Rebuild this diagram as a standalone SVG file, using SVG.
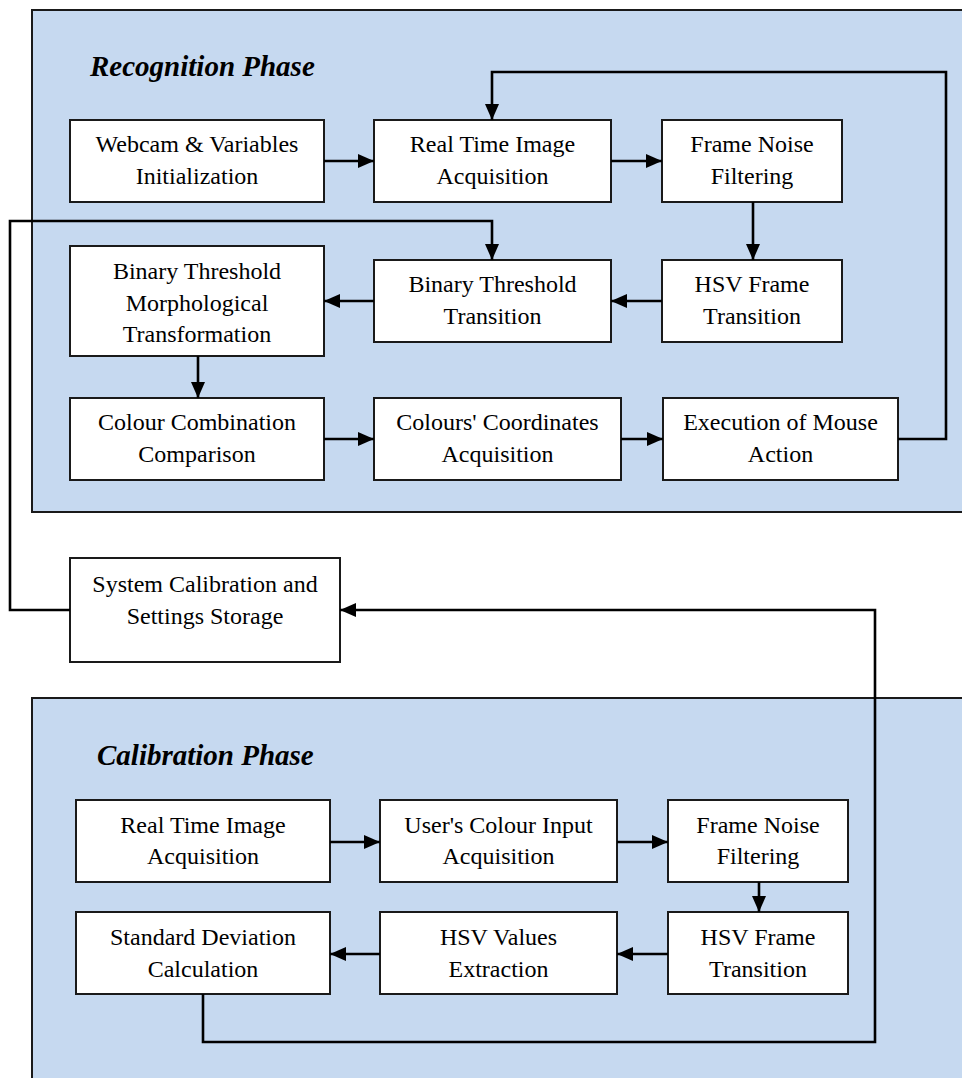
<svg xmlns="http://www.w3.org/2000/svg" width="962" height="1078" viewBox="0 0 962 1078">
  <defs>
    <marker id="arrow" markerWidth="16" markerHeight="14" refX="16" refY="7" orient="auto" markerUnits="userSpaceOnUse">
      <path d="M0,0 L16,7 L0,14 z" fill="#000"/>
    </marker>
    <style>
      .panel { fill: #c6d9f0; stroke: #1a1a1a; stroke-width: 2; }
      .box { fill: #ffffff; stroke: #1a1a1a; stroke-width: 2; }
      .label { font-family: "Liberation Serif", "Times New Roman", serif; font-size: 24px; fill: #000; text-anchor: middle; }
      .title { font-family: "Liberation Serif", "Times New Roman", serif; font-size: 29px; font-weight: bold; font-style: italic; fill: #000; }
      .link { fill: none; stroke: #000; stroke-width: 2.6; }
      .arrow { marker-end: url(#arrow); }
    </style>
  </defs>

  <rect width="962" height="1078" fill="#ffffff"/>

  <!-- phase panels (open to the right / bottom edges) -->
  <g id="recognition-phase">
    <rect class="panel" x="32" y="10" width="950" height="502"/>
    <text class="title" x="90" y="76">Recognition Phase</text>
  </g>
  <g id="calibration-phase">
    <rect class="panel" x="32" y="698" width="950" height="400"/>
    <text class="title" x="97" y="765">Calibration Phase</text>
  </g>

  <!-- recognition nodes -->
  <g id="webcam-init">
    <rect class="box" x="70" y="120" width="254" height="82"/>
    <text class="label" x="197" y="152">Webcam &amp; Variables</text>
    <text class="label" x="197" y="184">Initialization</text>
  </g>
  <g id="rec-image-acquisition">
    <rect class="box" x="374" y="120" width="237" height="82"/>
    <text class="label" x="492.5" y="152">Real Time Image</text>
    <text class="label" x="492.5" y="184">Acquisition</text>
  </g>
  <g id="rec-noise-filtering">
    <rect class="box" x="662" y="120" width="180" height="82"/>
    <text class="label" x="752" y="152">Frame Noise</text>
    <text class="label" x="752" y="184">Filtering</text>
  </g>
  <g id="rec-hsv-transition">
    <rect class="box" x="662" y="260" width="180" height="82"/>
    <text class="label" x="752" y="292">HSV Frame</text>
    <text class="label" x="752" y="324">Transition</text>
  </g>
  <g id="binary-threshold-transition">
    <rect class="box" x="374" y="260" width="237" height="82"/>
    <text class="label" x="492.5" y="292">Binary Threshold</text>
    <text class="label" x="492.5" y="324">Transition</text>
  </g>
  <g id="morphological-transformation">
    <rect class="box" x="70" y="246" width="254" height="110"/>
    <text class="label" x="197" y="279">Binary Threshold</text>
    <text class="label" x="197" y="311">Morphological</text>
    <text class="label" x="197" y="342">Transformation</text>
  </g>
  <g id="colour-comparison">
    <rect class="box" x="70" y="398" width="254" height="82"/>
    <text class="label" x="197" y="430">Colour Combination</text>
    <text class="label" x="197" y="462">Comparison</text>
  </g>
  <g id="coordinates-acquisition">
    <rect class="box" x="374" y="398" width="247" height="82"/>
    <text class="label" x="497.5" y="430">Colours' Coordinates</text>
    <text class="label" x="497.5" y="462">Acquisition</text>
  </g>
  <g id="mouse-action">
    <rect class="box" x="663" y="398" width="235" height="82"/>
    <text class="label" x="780.5" y="430">Execution of Mouse</text>
    <text class="label" x="780.5" y="462">Action</text>
  </g>

  <!-- storage node between phases -->
  <g id="settings-storage">
    <rect class="box" x="70" y="558" width="270" height="104"/>
    <text class="label" x="205" y="592">System Calibration and</text>
    <text class="label" x="205" y="624">Settings Storage</text>
  </g>

  <!-- calibration nodes -->
  <g id="cal-image-acquisition">
    <rect class="box" x="76" y="800" width="254" height="82"/>
    <text class="label" x="203" y="833">Real Time Image</text>
    <text class="label" x="203" y="864">Acquisition</text>
  </g>
  <g id="colour-input">
    <rect class="box" x="380" y="800" width="237" height="82"/>
    <text class="label" x="498.5" y="833">User's Colour Input</text>
    <text class="label" x="498.5" y="864">Acquisition</text>
  </g>
  <g id="cal-noise-filtering">
    <rect class="box" x="668" y="800" width="180" height="82"/>
    <text class="label" x="758" y="833">Frame Noise</text>
    <text class="label" x="758" y="864">Filtering</text>
  </g>
  <g id="cal-hsv-transition">
    <rect class="box" x="668" y="912" width="180" height="82"/>
    <text class="label" x="758" y="945">HSV Frame</text>
    <text class="label" x="758" y="977">Transition</text>
  </g>
  <g id="hsv-extraction">
    <rect class="box" x="380" y="912" width="237" height="82"/>
    <text class="label" x="498.5" y="945">HSV Values</text>
    <text class="label" x="498.5" y="977">Extraction</text>
  </g>
  <g id="std-deviation">
    <rect class="box" x="76" y="912" width="254" height="82"/>
    <text class="label" x="203" y="945">Standard Deviation</text>
    <text class="label" x="203" y="977">Calculation</text>
  </g>

  <!-- connectors -->
  <g id="connectors">
    <path class="link arrow" d="M324,161 H374"/>
    <path class="link arrow" d="M611,161 H662"/>
    <path class="link arrow" d="M753,202 V260"/>
    <path class="link arrow" d="M662,301 H611"/>
    <path class="link arrow" d="M374,301 H324"/>
    <path class="link arrow" d="M198,356 V398"/>
    <path class="link arrow" d="M324,439 H374"/>
    <path class="link arrow" d="M621,439 H663"/>
    <path class="link arrow" d="M898,439 H946 V72 H492 V120"/>
    <path class="link arrow" d="M70,610 H10 V221 H492 V260"/>
    <path class="link arrow" d="M203,994 V1042 H875 V610 H340"/>
    <path class="link arrow" d="M330,842 H380"/>
    <path class="link arrow" d="M617,842 H668"/>
    <path class="link arrow" d="M759,882 V912"/>
    <path class="link arrow" d="M668,954 H617"/>
    <path class="link arrow" d="M380,954 H330"/>
  </g>
</svg>
